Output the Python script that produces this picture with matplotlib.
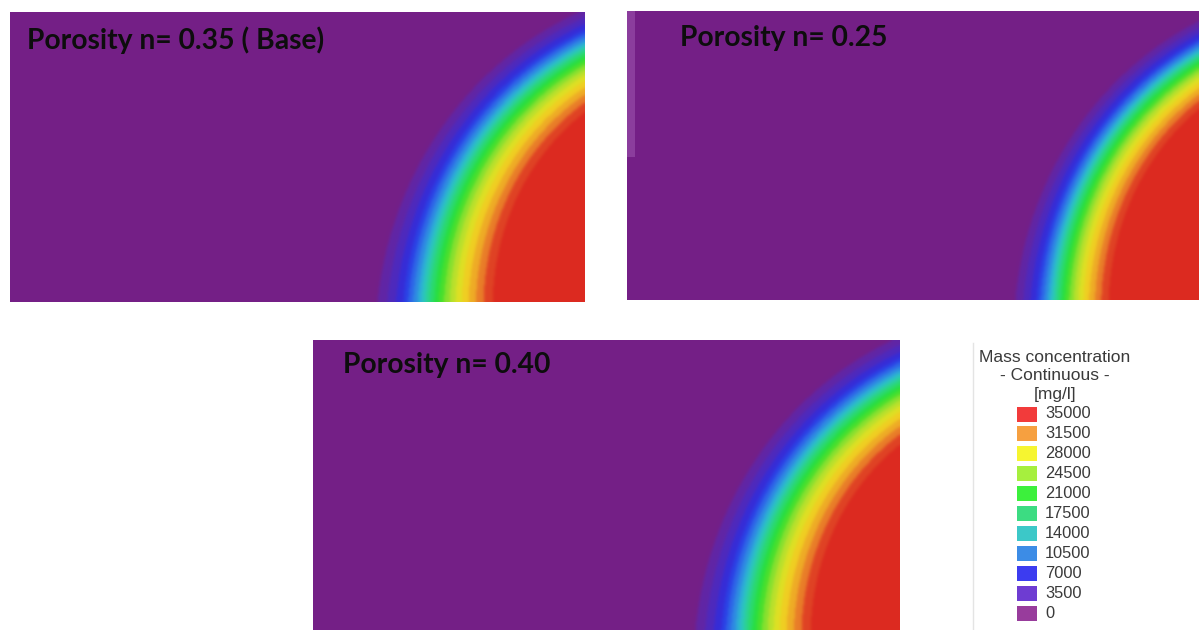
import numpy as np
import matplotlib
matplotlib.use("Agg")
import matplotlib.pyplot as plt
from matplotlib.patches import Rectangle
from matplotlib.colors import to_rgb

# ---------------- data ----------------
titles = ["Porosity n= 0.35 ( Base)", "Porosity n= 0.25", "Porosity n= 0.40"]

# concentration profile across the front (normal distance from the mid-front, px, outward +)
prof_dist = [-60, -50, -42, -32, -22, -10, 0, 12, 25, 35, 48, 60]
prof_conc = [35000, 33000, 31000, 28500, 25500, 21500, 17500, 12000, 7000, 4500, 2000, 0]

# panel geometry (pixel boxes) and elliptical front parameters
panel_boxes = [(10, 12, 585, 302), (627, 11, 1199, 300), (313, 340, 900, 630)]
front_cx = [700, 711, 715]
front_cy = [-20, -20, -20]
front_a = [281, 281, 281]
front_b = [302, 302, 302]
width_bottom = [1.05, 0.85, 1.05]
width_top = [0.76, 0.63, 0.80]
title_pos = [(17, 28), (53, 27), (30, 25)]

# legend
legend_levels = [35000, 31500, 28000, 24500, 21000, 17500, 14000, 10500, 7000, 3500, 0]
legend_colors = ["#f23b3b", "#f6a040", "#f6f530", "#a6ef3e", "#3cf03c", "#3cdc82",
                 "#3cc8c8", "#3c8ce6", "#3c3cf0", "#6e3cd2", "#983c9c"]

# field colour anchors (value, colour)
field_vals = [0, 3500, 7000, 10500, 14000, 17500, 21000, 24500, 28000, 31500, 33250, 35000]
field_cols = ["#741f87", "#5a28b0", "#2a2ee4", "#2f78e8", "#2cc0d0", "#2bd880",
              "#28e02c", "#a8e030", "#f0e020", "#ee9a28", "#e4602a", "#dc2a20"]

# ---------------- figure ----------------
FW, FH = 1199, 630
fig = plt.figure(figsize=(FW / 100, FH / 100), dpi=100)
fig.patch.set_facecolor("white")


def rect(x0, y0, x1, y1):
    return [x0 / FW, 1 - y1 / FH, (x1 - x0) / FW, (y1 - y0) / FH]


step = 1750.0
fc_rgb = np.array([to_rgb(c) for c in field_cols])


def band_rgb(C):
    idx = np.clip(np.floor(C / step), 0, 19)
    mid = (idx + 0.5) * step
    mid = np.where(idx == 0, 0, mid)
    mid = np.where(C >= 35000 - 1e-6, 35000, np.where(idx == 19, 34200, mid))
    return np.stack([np.interp(mid, field_vals, fc_rgb[:, k]) for k in range(3)], axis=-1)


def blur(img, sigma=1.6):
    rad = int(3 * sigma)
    xk = np.arange(-rad, rad + 1)
    k = np.exp(-xk ** 2 / (2 * sigma ** 2))
    k /= k.sum()
    pad = np.pad(img, ((rad, rad), (rad, rad), (0, 0)), mode="edge")
    tmp = np.apply_along_axis(lambda m: np.convolve(m, k, mode="valid"), 0, pad)
    return np.apply_along_axis(lambda m: np.convolve(m, k, mode="valid"), 1, tmp)


for i, (x0, y0, x1, y1) in enumerate(panel_boxes):
    ax = fig.add_axes(rect(x0, y0, x1, y1))
    W, H = x1 - x0, y1 - y0
    xs = np.arange(W) + 0.5
    ys = np.arange(H) + 0.5
    X, Y = np.meshgrid(xs, ys)
    dx = X - front_cx[i]
    dy = Y - front_cy[i]
    a, b = front_a[i], front_b[i]
    s = np.sqrt((dx / a) ** 2 + (dy / b) ** 2)
    grad = np.sqrt((dx / a ** 2) ** 2 + (dy / b ** 2) ** 2) / np.maximum(s, 1e-9)
    dist = (s - 1) / np.maximum(grad, 1e-9)
    wf = width_bottom[i] + (width_top[i] - width_bottom[i]) * Y / H
    u = dist / wf
    C = np.interp(u, prof_dist, prof_conc)
    img = blur(band_rgb(C))
    ax.imshow(np.clip(img, 0, 1), extent=(0, W, 0, H), origin="lower",
              interpolation="bilinear", aspect="auto")
    ax.set_xlim(0, W)
    ax.set_ylim(0, H)
    ax.axis("off")
    if i == 1:
        ax.add_patch(Rectangle((0, H - 146), 8, 146, facecolor="#8b3d9d",
                               edgecolor="none", zorder=3))
    tx, ty = title_pos[i]
    ax.text(tx, H - ty, titles[i], fontsize=20.3, fontweight="bold", family="Lato",
            color="#0d0d0d", ha="left", va="center", zorder=5)

# legend
lax = fig.add_axes(rect(960, 340, 1199, 630))
lax.set_xlim(960, 1199)
lax.set_ylim(630, 340)
lax.axis("off")
lax.plot([973, 973], [343, 630], color="#e4e4e4", lw=1)
for t, yy in zip(["Mass concentration", "- Continuous -", "[mg/l]"], [357, 376, 395]):
    lax.text(1055, yy, t, fontsize=12.5, family="Liberation Sans", color="#3a3a3a",
             ha="center", va="center")
for k, (lv, col) in enumerate(zip(legend_levels, legend_colors)):
    yc = 414 + k * 19.9
    lax.add_patch(Rectangle((1017, yc - 7.5), 20, 15, facecolor=col, edgecolor="none"))
    lax.text(1045, yc, str(lv), fontsize=11.8, family="Liberation Sans", color="#3a3a3a",
             ha="left", va="center")

fig.savefig("out.png", dpi=100, facecolor="white")
